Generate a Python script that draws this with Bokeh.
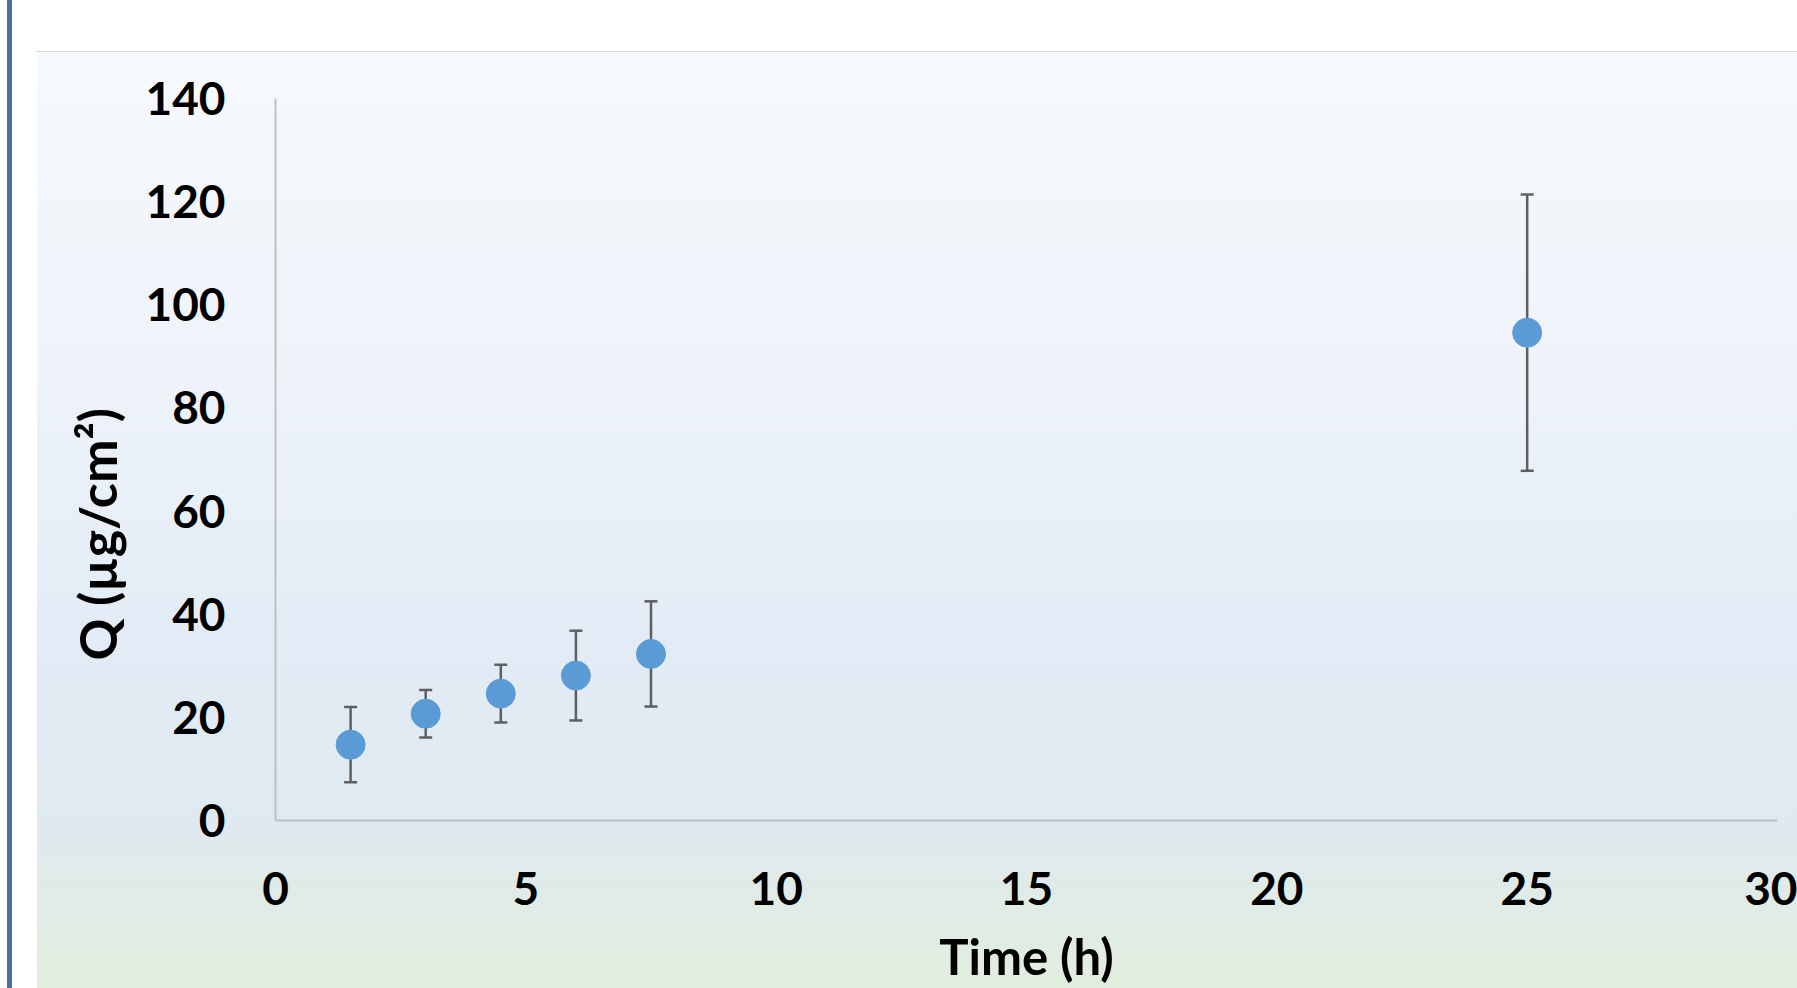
from bokeh.plotting import figure
from bokeh.models import Whisker, TeeHead, ColumnDataSource, FixedTicker
from bokeh.embed import file_html
from bokeh.resources import INLINE

# Cumulative permeated amount over time (mean ± SD)
time_h = [1.5, 3.0, 4.5, 6.0, 7.5, 25.0]
q_mean = [14.7, 20.7, 24.6, 28.1, 32.3, 94.6]
q_sd = [7.3, 4.6, 5.6, 8.7, 10.2, 26.8]

x_ticks = [0, 5, 10, 15, 20, 25, 30]
y_ticks = [0, 20, 40, 60, 80, 100, 120, 140]

src = ColumnDataSource(dict(
    t=time_h,
    q=q_mean,
    lo=[m - s for m, s in zip(q_mean, q_sd)],
    hi=[m + s for m, s in zip(q_mean, q_sd)],
))

FONT = "Lato"

p = figure(
    width=1797, height=988,
    x_range=(0, 30), y_range=(0, 140),
    output_backend="svg", toolbar_location=None,
    min_border_left=275, min_border_right=20,
    min_border_top=98, min_border_bottom=168,
)
p.styles = {
    "background-image": (
        "linear-gradient(#d9d9d9, #d9d9d9), "
        "linear-gradient(to bottom, #f6f9fd 0%, #eef3fa 35%, #e3ecf6 62%, #dfe9f0 82%, #e1eedd 100%), "
        "linear-gradient(#4a6f9e, #4a6f9e)"
    ),
    "background-position": "36px 51px, 37px 52px, 7px 0px",
    "background-size": "1761px 1px, 1760px 936px, 5px 988px",
    "background-repeat": "no-repeat",
    "background-color": "#ffffff",
}
p.border_fill_color = None
p.background_fill_color = None
p.outline_line_color = None
p.grid.grid_line_color = None

for ax in (p.xaxis, p.yaxis):
    ax.axis_line_color = "#bfbfbf"
    ax.axis_line_width = 2
    ax.major_tick_line_color = None
    ax.minor_tick_line_color = None
    ax.major_tick_out = 0
    ax.major_tick_in = 0
    ax.major_label_text_font = FONT
    ax.major_label_text_font_style = "bold"
    ax.major_label_text_font_size = "46px"
    ax.major_label_text_color = "#000000"
    ax.axis_label_text_font = FONT
    ax.axis_label_text_font_style = "bold"
    ax.axis_label_text_color = "#000000"

p.xaxis.ticker = FixedTicker(ticks=x_ticks)
p.yaxis.ticker = FixedTicker(ticks=y_ticks)
p.yaxis.major_label_standoff = 50
p.xaxis.major_label_standoff = 51

p.xaxis.axis_label = "Time (h)"
p.xaxis.axis_label_text_font_size = "49px"
p.xaxis.axis_label_standoff = 19

# trailing wide spaces move the title down along the axis
p.yaxis.axis_label = "Q (µg/cm²)\u2003\u2003\u2003\u2002\u2009"
p.yaxis.axis_label_text_font_size = "52px"
p.yaxis.axis_label_standoff = 14

whisk = Whisker(
    base="t", upper="hi", lower="lo", source=src,
    line_color="#5f5f5f", line_width=2.5,
    upper_head=TeeHead(size=13, line_color="#5f5f5f", line_width=2.5),
    lower_head=TeeHead(size=13, line_color="#5f5f5f", line_width=2.5),
)
p.add_layout(whisk)

p.scatter("t", "q", source=src, size=29, fill_color="#5b9bd5",
          line_color="#5b9bd5", line_width=1)

open("out.html", "w").write(file_html(p, INLINE))
